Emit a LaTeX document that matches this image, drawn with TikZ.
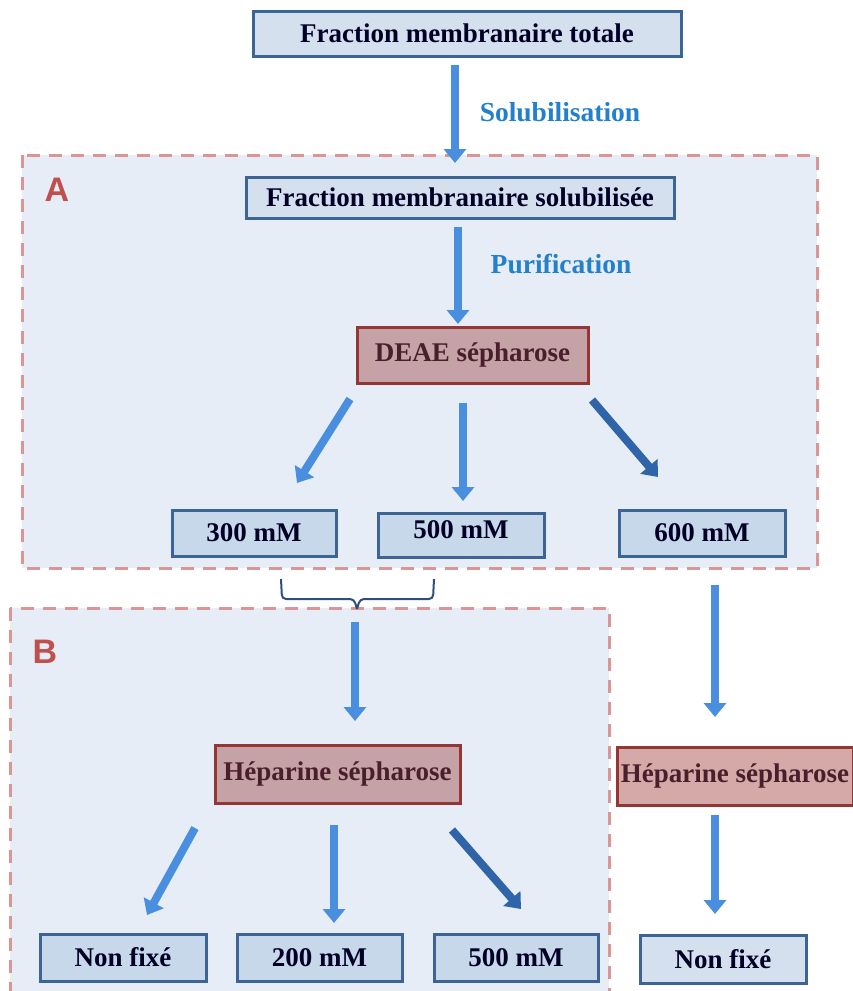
\documentclass[tikz,border=0pt]{standalone}
\usepackage{fontspec}
\setmainfont{Liberation Serif}
\newfontfamily\lblsans{Liberation Sans}
\usetikzlibrary{arrows.meta}
\definecolor{boxfill}{HTML}{C8D8EB}
\definecolor{boxfilltop}{HTML}{D4E0EE}
\definecolor{boxdraw}{HTML}{3C6494}
\definecolor{regfill}{HTML}{E7EDF6}
\definecolor{regdraw}{HTML}{DA9694}
\definecolor{pinkfill}{HTML}{C4A2A5}
\definecolor{pinkfilltwo}{HTML}{D6A9A9}
\definecolor{pinkdraw}{HTML}{943634}
\definecolor{pinktext}{HTML}{4A1F2C}
\definecolor{arrblue}{HTML}{4A8FDF}
\definecolor{arrdark}{HTML}{2F65A8}
\definecolor{lblblue}{HTML}{2280CC}
\definecolor{lblred}{HTML}{C0504D}
\definecolor{bracecol}{HTML}{2E4F7A}
\tikzset{
  bluebox/.style={draw=boxdraw, fill=boxfill, line width=3pt, inner sep=0pt,
    font=\fontsize{27}{32}\selectfont\bfseries, text=black!85!blue},
  pinkbox/.style={draw=pinkdraw, fill=pinkfill, line width=3pt, inner sep=0pt,
    font=\fontsize{27}{32}\selectfont\bfseries, text=pinktext},
  region/.style={draw=regdraw, fill=regfill, line width=3pt, dash pattern=on 13pt off 9pt},
  bigarrow/.style={draw=arrblue, line width=8pt, -{Triangle[width=22pt,length=14pt]}},
  darkarrow/.style={bigarrow, draw=arrdark},
  steplabel/.style={text=lblblue, font=\fontsize{27.5}{32}\selectfont\bfseries},
  reglabel/.style={text=lblred, font=\lblsans\fontsize{34}{40}\selectfont\bfseries},
}
\begin{document}
\begin{tikzpicture}[x=1pt,y=-1pt]
\useasboundingbox (0,0) rectangle (853,991);
% regions
\draw[region] (22,155) rectangle (817,568);
\draw[region] (10,608) rectangle (609,1000);
\node[reglabel] (labA) at (57,190) {A};
\node[reglabel] (labB) at (45,652) {B};
% boxes
\node[bluebox, fill=boxfilltop, minimum width=428pt, minimum height=45pt] (top) at (467,33.5) {Fraction membranaire totale};
\node[bluebox, fill=boxfilltop, minimum width=428pt, minimum height=41pt] (sol) at (460,197.5) {Fraction membranaire solubilisée};
\node[pinkbox, minimum width=231pt, minimum height=56pt] (deae) at (472.5,355) {DEAE sépharose};
\node[bluebox, minimum width=164pt, minimum height=46pt] (m300) at (254,533) {300 mM};
\node[bluebox, minimum width=166pt, minimum height=44pt, text depth=10pt] (m500) at (461,535) {500 mM};
\node[bluebox, minimum width=166pt, minimum height=46pt] (m600) at (702,533) {600 mM};
\node[pinkbox, minimum width=245pt, minimum height=58pt] (hepB) at (337.5,774) {Héparine sépharose};
\node[pinkbox, fill=pinkfilltwo, minimum width=236pt, minimum height=58pt] (hepR) at (735,776) {Héparine sépharose};
\node[bluebox, minimum width=166pt, minimum height=47pt] (nf) at (123,957.5) {Non fixé};
\node[bluebox, minimum width=165pt, minimum height=47pt] (m200) at (319.5,957.5) {200 mM};
\node[bluebox, minimum width=164pt, minimum height=47pt] (m500b) at (516,957.5) {500 mM};
\node[bluebox, fill=boxfilltop, minimum width=166pt, minimum height=48pt] (nfR) at (723,959) {Non fixé};
% step labels
\node[steplabel] (solubl) at (560,112) {Solubilisation};
\node[steplabel] (purif) at (561,264) {Purification};
% arrow end points
\coordinate (a1s) at (455,65);  \coordinate (a1e) at (455,163);
\coordinate (a2s) at (458,227); \coordinate (a2e) at (458,324);
\coordinate (a3s) at (350,399); \coordinate (a3e) at (297,483);
\coordinate (a4s) at (463,403); \coordinate (a4e) at (463,501);
\coordinate (a5s) at (592,400); \coordinate (a5e) at (658,477);
\coordinate (a6s) at (355,622); \coordinate (a6e) at (355,721);
\coordinate (a7s) at (715,585); \coordinate (a7e) at (715,717);
\coordinate (a8s) at (715,815); \coordinate (a8e) at (715,914);
\coordinate (a9s) at (195,828); \coordinate (a9e) at (147,915);
\coordinate (a10s) at (334,825); \coordinate (a10e) at (334,923);
\coordinate (a11s) at (452,830); \coordinate (a11e) at (521,909);
\draw[bigarrow] (a1s) -- (a1e);
\draw[bigarrow] (a2s) -- (a2e);
\draw[bigarrow] (a3s) -- (a3e);
\draw[bigarrow] (a4s) -- (a4e);
\draw[darkarrow] (a5s) -- (a5e);
\draw[bigarrow] (a6s) -- (a6e);
\draw[bigarrow] (a7s) -- (a7e);
\draw[bigarrow] (a8s) -- (a8e);
\draw[bigarrow] (a9s) -- (a9e);
\draw[bigarrow] (a10s) -- (a10e);
\draw[darkarrow] (a11s) -- (a11e);
% brace
\coordinate (brL) at (281,579);
\coordinate (brR) at (434,579);
\coordinate (brT) at (357,609);
\draw[bracecol, line width=2pt, rounded corners=4pt] (brL) -- (282,599) -- (354,599) -- (brT);
\draw[bracecol, line width=2pt, rounded corners=4pt] (brT) -- (360,599) -- (433,599) -- (brR);
\end{tikzpicture}
\end{document}
